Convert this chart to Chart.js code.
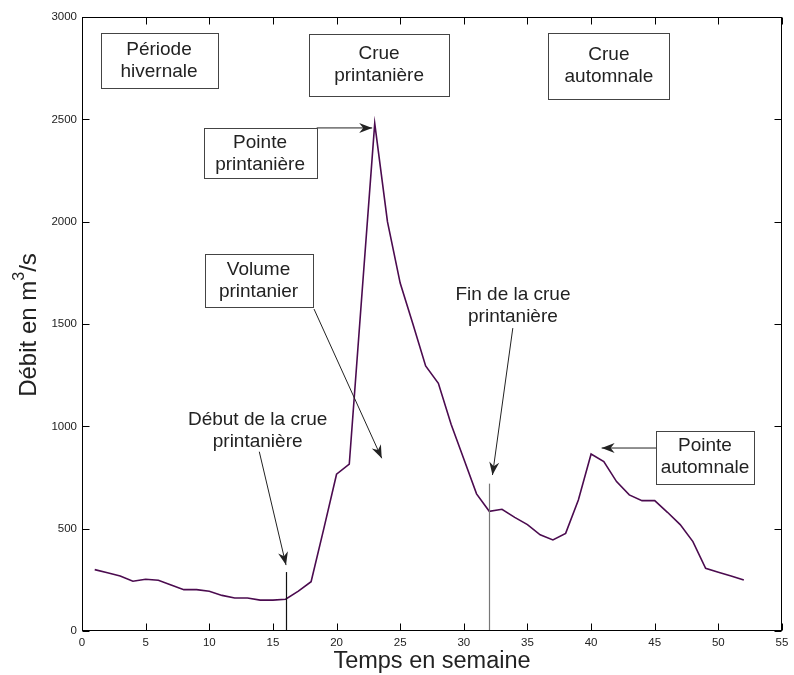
<!DOCTYPE html>
<html>
<head>
<meta charset="utf-8">
<script src="https://cdn.jsdelivr.net/npm/chart.js@4/dist/chart.umd.min.js"></script>
<style>
  html, body { margin: 0; padding: 0; background: #fff; }
  #wrap { width: 794px; height: 675px; }
</style>
</head>
<body>
<div id="wrap"><canvas id="c" width="794" height="675"></canvas></div>
<script>
// Weekly discharge over one year (m³/s)
const weeks = Array.from({ length: 52 }, (_, i) => i + 1);
const discharge = [
  300, 285, 269, 243, 253, 248, 225, 202, 202, 194,
  174, 161, 161, 151, 151, 155, 195, 241, 500, 766,
  815, 1650, 2480, 2000, 1700, 1500, 1295, 1210, 1010, 840,
  670, 585, 595, 555, 520, 470, 445, 477, 640, 865,
  828, 730, 665, 637, 637, 580, 520, 437, 306, 287,
  269, 249
];
const xTicks = [0, 5, 10, 15, 20, 25, 30, 35, 40, 45, 50, 55];
const yTicks = [0, 500, 1000, 1500, 2000, 2500, 3000];

// Start / end of the spring flood (week, height of the marker line)
const floodStart = { week: 16, top: 288 };
const floodEnd = { week: 32, top: 720 };

// Boxed labels: centre in data units
const boxes = [
  { lines: ['Période', 'hivernale'], x: 6.05, y: 2786, w: 117, h: 55 },
  { lines: ['Crue', 'printanière'], x: 23.34, y: 2765, w: 140, h: 62 },
  { lines: ['Crue', 'automnale'], x: 41.4, y: 2763, w: 121, h: 66 },
  { lines: ['Pointe', 'printanière'], x: 13.99, y: 2334, w: 113, h: 50 },
  { lines: ['Volume', 'printanier'], x: 13.87, y: 1711, w: 108, h: 53 },
  { lines: ['Pointe', 'automnale'], x: 48.95, y: 850, w: 98, h: 53 }
];
// Free labels (no frame)
const freeLabels = [
  { lines: ['Début de la crue', 'printanière'], x: 13.8, y: 977 },
  { lines: ['Fin de la crue', 'printanière'], x: 33.86, y: 1588 }
];
// Arrows: from -> to, data units
const arrows = [
  { from: [18.44, 2458], to: [22.8, 2458] },
  { from: [18.23, 1573], to: [23.55, 844] },
  { from: [13.93, 876], to: [16.03, 322] },
  { from: [33.85, 1480], to: [32.25, 762] },
  { from: [45.1, 894], to: [40.83, 894] }
];

const FONT = '"Liberation Sans", Arial, Helvetica, sans-serif';
const INK = '#222';

function arrowHead(ctx, x1, y1, x2, y2) {
  const ang = Math.atan2(y2 - y1, x2 - x1);
  const L = 13, W = 5, N = 4;
  ctx.save();
  ctx.translate(x2, y2);
  ctx.rotate(ang);
  ctx.beginPath();
  ctx.moveTo(0, 0);
  ctx.lineTo(-L, -W);
  ctx.lineTo(-L + N, 0);
  ctx.lineTo(-L, W);
  ctx.closePath();
  ctx.fill();
  ctx.restore();
}

const decorations = {
  id: 'decorations',
  afterDatasetsDraw(chart) {
    const { ctx, chartArea: a, scales: { x, y } } = chart;
    ctx.save();

    // spring flood start / end markers
    ctx.lineWidth = 1.2;
    ctx.strokeStyle = '#111';
    let px = Math.round(x.getPixelForValue(floodStart.week)) + 0.5;
    ctx.beginPath();
    ctx.moveTo(px, y.getPixelForValue(0));
    ctx.lineTo(px, y.getPixelForValue(floodStart.top));
    ctx.stroke();
    ctx.strokeStyle = '#777';
    px = Math.round(x.getPixelForValue(floodEnd.week)) + 0.5;
    ctx.beginPath();
    ctx.moveTo(px, y.getPixelForValue(0));
    ctx.lineTo(px, y.getPixelForValue(floodEnd.top));
    ctx.stroke();

    // arrows
    ctx.strokeStyle = '#222';
    ctx.fillStyle = '#222';
    ctx.lineWidth = 1;
    arrows.forEach(ar => {
      const x1 = x.getPixelForValue(ar.from[0]), y1 = y.getPixelForValue(ar.from[1]);
      const x2 = x.getPixelForValue(ar.to[0]), y2 = y.getPixelForValue(ar.to[1]);
      ctx.beginPath();
      ctx.moveTo(x1, y1);
      ctx.lineTo(x2, y2);
      ctx.stroke();
      arrowHead(ctx, x1, y1, x2, y2);
    });

    // boxed labels
    ctx.font = '19px ' + FONT;
    ctx.textAlign = 'center';
    ctx.textBaseline = 'middle';
    boxes.forEach(b => {
      const cx = x.getPixelForValue(b.x), cy = y.getPixelForValue(b.y);
      const l = Math.round(cx - b.w / 2) + 0.5, t = Math.round(cy - b.h / 2) + 0.5;
      ctx.fillStyle = '#fff';
      ctx.fillRect(l, t, b.w, b.h);
      ctx.strokeStyle = '#444';
      ctx.lineWidth = 1;
      ctx.strokeRect(l, t, b.w, b.h);
      ctx.fillStyle = INK;
      ctx.fillText(b.lines[0], cx, cy - 11);
      ctx.fillText(b.lines[1], cx, cy + 11);
    });
    freeLabels.forEach(f => {
      const cx = x.getPixelForValue(f.x), cy = y.getPixelForValue(f.y);
      ctx.fillStyle = INK;
      ctx.fillText(f.lines[0], cx, cy - 11);
      ctx.fillText(f.lines[1], cx, cy + 11);
    });

    // axes frame with inward ticks on all four sides
    ctx.strokeStyle = '#000';
    ctx.lineWidth = 1;
    const L = Math.round(a.left) + 0.5, R = Math.round(a.right) - 0.5;
    const T = Math.round(a.top) + 0.5, B = Math.round(a.bottom) - 0.5;
    ctx.strokeRect(L, T, R - L, B - T);
    const tl = 7;
    ctx.beginPath();
    xTicks.forEach(v => {
      const p = Math.round(x.getPixelForValue(v)) + 0.5;
      ctx.moveTo(p, B); ctx.lineTo(p, B - tl);
      ctx.moveTo(p, T); ctx.lineTo(p, T + tl);
    });
    yTicks.forEach(v => {
      const p = Math.round(y.getPixelForValue(v)) + 0.5;
      ctx.moveTo(L, p); ctx.lineTo(L + tl, p);
      ctx.moveTo(R, p); ctx.lineTo(R - tl, p);
    });
    ctx.stroke();

    // axis titles
    ctx.fillStyle = INK;
    ctx.font = '23.5px ' + FONT;
    ctx.textAlign = 'center';
    ctx.textBaseline = 'middle';
    ctx.fillText('Temps en semaine', (a.left + a.right) / 2, 662);

    ctx.save();
    ctx.translate(29, (a.top + a.bottom) / 2 + 1);
    ctx.rotate(-Math.PI / 2);
    const main = 'Débit en m', sup = '3', tail = '/s';
    ctx.font = '24px ' + FONT;
    const w1 = ctx.measureText(main).width, w3 = ctx.measureText(tail).width;
    ctx.font = '16px ' + FONT;
    const w2 = ctx.measureText(sup).width;
    let sx = -(w1 + w2 + w3) / 2;
    ctx.textAlign = 'left';
    ctx.font = '24px ' + FONT;
    ctx.fillText(main, sx, 0);
    ctx.font = '16px ' + FONT;
    ctx.fillText(sup, sx + w1, -9);
    ctx.font = '24px ' + FONT;
    ctx.fillText(tail, sx + w1 + w2, 0);
    ctx.restore();

    ctx.restore();
  }
};

new Chart(document.getElementById('c'), {
  type: 'line',
  data: {
    labels: weeks,
    datasets: [{
      data: weeks.map((w, i) => ({ x: w, y: discharge[i] })),
      borderColor: '#4b0b4f',
      borderWidth: 1.6,
      pointRadius: 0,
      tension: 0,
      fill: false
    }]
  },
  options: {
    responsive: false,
    animation: false,
    events: [],
    layout: { autoPadding: false, padding: { top: 17, right: 12, left: 0, bottom: 0 } },
    plugins: { legend: { display: false }, tooltip: { enabled: false } },
    scales: {
      x: {
        type: 'linear', min: 0, max: 55,
        afterBuildTicks: s => { s.ticks = xTicks.map(v => ({ value: v })); },
        afterFit: s => { s.height = 44; },
        grid: { display: false, drawTicks: false },
        border: { display: false },
        ticks: { color: INK, padding: 5, maxRotation: 0, autoSkip: false,
                 callback: v => String(v), font: { family: FONT, size: 11.5 } }
      },
      y: {
        type: 'linear', min: 0, max: 3000,
        afterBuildTicks: s => { s.ticks = yTicks.map(v => ({ value: v })); },
        afterFit: s => { s.width = 82; },
        grid: { display: false, drawTicks: false },
        border: { display: false },
        ticks: { color: INK, padding: 5, autoSkip: false,
                 callback: v => String(v), font: { family: FONT, size: 11.5 } }
      }
    }
  },
  plugins: [decorations]
});
</script>
</body>
</html>
